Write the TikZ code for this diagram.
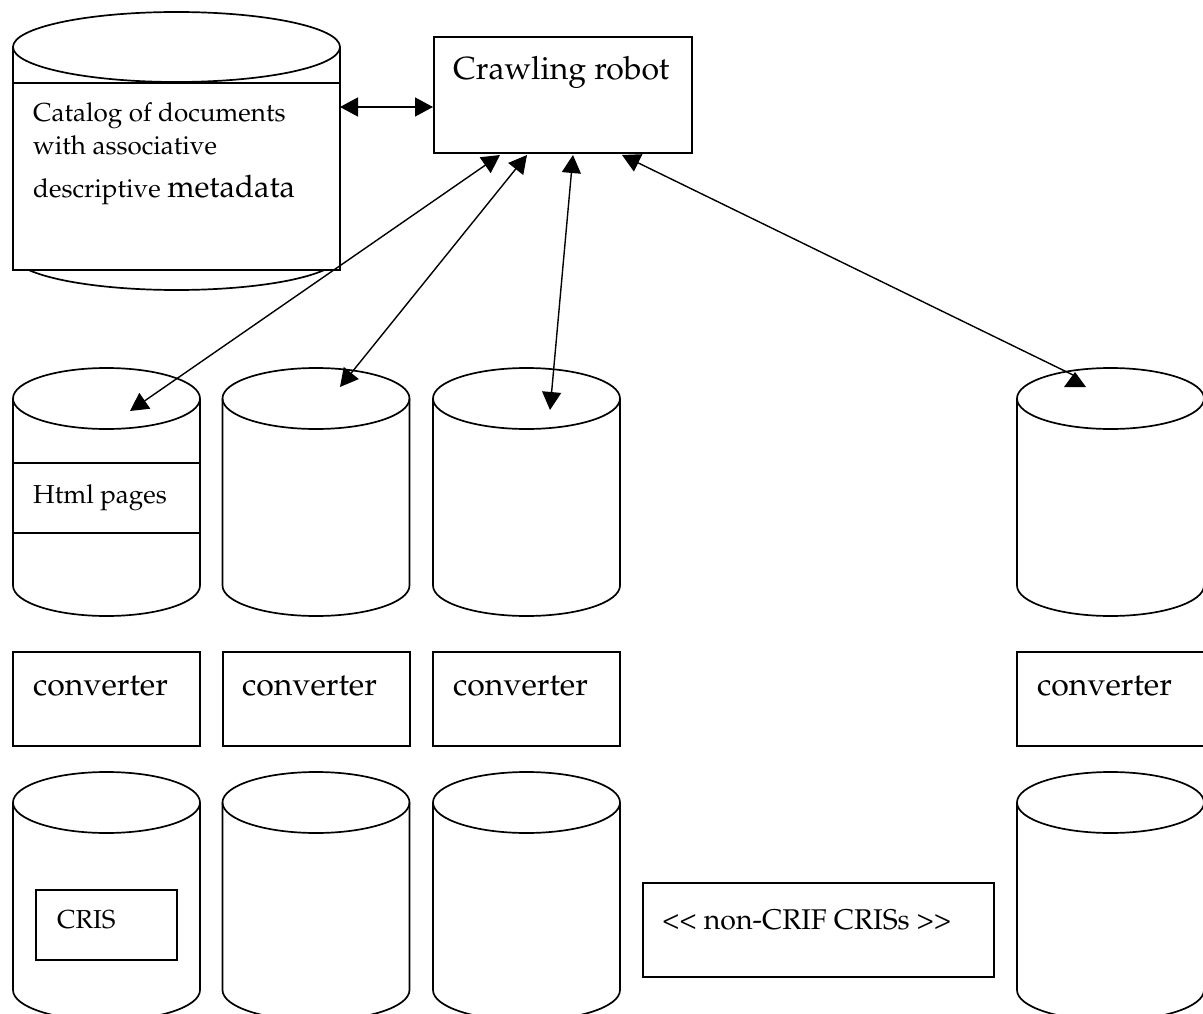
\documentclass[tikz,border=0pt]{standalone}
\usepackage[T1]{fontenc}
\usepackage{mathpazo}
\usepackage{tikz}
\usetikzlibrary{arrows.meta}

\tikzset{
  outline/.style={line width=1.7pt},
  link/.style={line width=1.4pt,
    {Triangle[length=18pt,width=19pt]}-{Triangle[length=18pt,width=19pt]}},
  halflink/.style={line width=1.4pt, {Triangle[length=18pt,width=19pt]}-},
  small/.style={font=\fontsize{26}{30}\selectfont, anchor=base west, inner sep=0pt},
  big/.style={font=\fontsize{32}{38}\selectfont, anchor=base west, inner sep=0pt},
}

% cylinder: centre x, x radius, y radius, top y, bottom y
\newcommand{\drum}[5]{%
  \draw[outline, fill=white] (#1-#2,#4) -- (#1-#2,#5)
    arc[start angle=180, end angle=0, x radius=#2, y radius=#3] -- (#1+#2,#4);
  \draw[outline] (#1,#4) ellipse [x radius=#2, y radius=#3];
}

\begin{document}
\begin{tikzpicture}[x=1pt, y=-1pt]
  \useasboundingbox (0,0) rectangle (1203,1014);

  % catalog
  \drum{176.5}{163.5}{35}{47}{255}
  \draw[outline, fill=white] (13,83) rectangle (340,270);
  \node[small] (cat1) at (33,122) {Catalog of documents};
  \node[small] (cat2) at (33,155) {with associative};
  \node[small] (cat3) at (33,197) {descriptive {\fontsize{31}{36}\selectfont metadata}};

  % robot
  \node[draw, outline, anchor=north west, minimum width=258pt, minimum height=116pt,
        inner sep=0pt] (robot) at (433,36) {};
  \node[big] (robotlabel) at (453,80) {Crawling robot};

  % sources
  \drum{106.5}{93.5}{30.5}{398.5}{585.5}
  \drum{316}{93.5}{30.5}{398.5}{585.5}
  \drum{526.5}{93.5}{30.5}{398.5}{585.5}
  \drum{1110.5}{93.5}{30.5}{398.5}{585.5}
  \draw[outline] (13,463) -- (200,463);
  \draw[outline] (13,533) -- (200,533);
  \node[small] (html) at (33,503) {Html pages};

  % converters
  \draw[outline] (13,652) rectangle (200,746);
  \draw[outline] (223,652) rectangle (410,746);
  \draw[outline] (433,652) rectangle (620,746);
  \draw[outline] (1017,652) rectangle (1204,746);
  \node[big] (conv1) at (33,695) {converter};
  \node[big] (conv2) at (242,695) {converter};
  \node[big] (conv3) at (453,695) {converter};
  \node[big] (conv4) at (1037,695) {converter};

  % CRISs
  \drum{106.5}{93.5}{30.5}{802.5}{990}
  \drum{316}{93.5}{30.5}{802.5}{990}
  \drum{526.5}{93.5}{30.5}{802.5}{990}
  \drum{1110.5}{93.5}{30.5}{802.5}{990}
  \draw[outline] (36,890) rectangle (177,960);
  \node[small] (cris) at (57,928) {CRIS};
  \draw[outline] (643,883) rectangle (994,977);
  \node[small, font=\fontsize{28.5}{32}\selectfont] (noncrif) at (662,929)
    {\textless\kern0pt\textless\ non-CRIF CRISs \textgreater\kern0pt\textgreater};

  % arrow ends
  \coordinate (catend) at (340,107);
  \coordinate (robotend) at (433,107);
  \coordinate (r1) at (500,155);
  \coordinate (r2) at (527,155);
  \coordinate (r3) at (573,155);
  \coordinate (r4) at (622,155);
  \coordinate (s1) at (130,411);
  \coordinate (s2) at (340,387);
  \coordinate (s3) at (550,410);
  \coordinate (s4) at (1073,375);

  \draw[link] (catend) -- (robotend);
  \draw[link] (s1) -- (r1);
  \draw[link] (s2) -- (r2);
  \draw[link] (s3) -- (r3);
  \draw[halflink] (r4) -- (s4);
  % head at s4 stands upright
  \fill (1075,372) -- (1086,387) -- (1064,387) -- cycle;
\end{tikzpicture}
\end{document}
